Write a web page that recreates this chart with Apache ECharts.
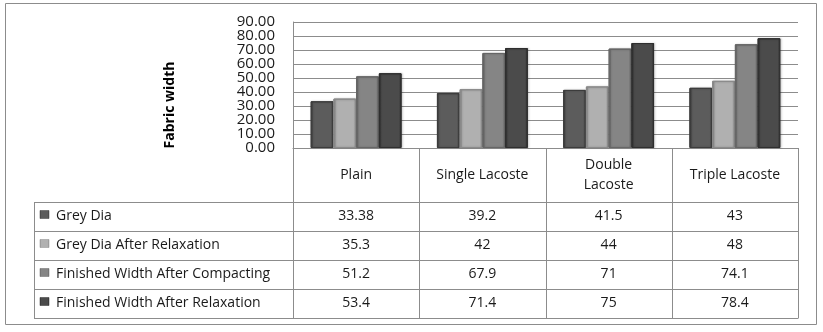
<!DOCTYPE html>
<html>
<head>
<meta charset="utf-8">
<script src="https://cdn.jsdelivr.net/npm/echarts@6/dist/echarts.min.js"></script>
<style>
  html, body { margin: 0; padding: 0; background: #fff; }
  #chart { width: 823px; height: 332px; }
</style>
</head>
<body>
<div id="chart"></div>
<script>
// data
const categories = ["Plain", "Single Lacoste", "Double Lacoste", "Triple Lacoste"];
const seriesNames = [
  "Grey Dia",
  "Grey Dia After Relaxation",
  "Finished Width After Compacting",
  "Finished Width After Relaxation",
];
const greyDia = [33.38, 39.2, 41.5, 43];
const greyDiaRelax = [35.3, 42, 44, 48];
const finishedCompact = [51.2, 67.9, 71, 74.1];
const finishedRelax = [53.4, 71.4, 75, 78.4];
const yTicks = [0, 10, 20, 30, 40, 50, 60, 70, 80, 90];

const seriesData = [greyDia, greyDiaRelax, finishedCompact, finishedRelax];
// base grey for each series: [edge, centre]
const shades = [
  ["#3c3c3c", "#5c5c5c"],
  ["#8a8a8a", "#b0b0b0"],
  ["#666666", "#858585"],
  ["#2f2f2f", "#4b4b4b"],
];

const FONT = "Open Sans";
const TXT = "#1a1a1a";
const LINE = "#8c8c8c";

const chart = echarts.init(document.getElementById("chart"));

function barFill(s) {
  return new echarts.graphic.LinearGradient(0, 0, 1, 0, [
    { offset: 0, color: s[0] },
    { offset: 0.12, color: s[1] },
    { offset: 0.88, color: s[1] },
    { offset: 1, color: s[0] },
  ]);
}

const option = {
  animation: false,
  grid: { left: 293, top: 22, right: 25, bottom: 184 },
  xAxis: {
    type: "category",
    data: categories,
    axisLine: { show: true, lineStyle: { color: LINE, width: 1 } },
    axisTick: { show: false },
    axisLabel: {
      margin: 27,
      verticalAlign: "middle",
      fontFamily: FONT,
      fontSize: 14,
      lineHeight: 20,
      color: TXT,
      interval: 0,
      formatter: (v) => (v === "Double Lacoste" ? "Double\nLacoste" : v),
    },
  },
  yAxis: {
    type: "value",
    min: yTicks[0],
    max: yTicks[yTicks.length - 1],
    interval: yTicks[1] - yTicks[0],
    axisLine: { show: true, lineStyle: { color: LINE, width: 1 } },
    axisTick: { show: false },
    splitLine: { lineStyle: { color: LINE, width: 1 } },
    // tick labels are packed tighter than ECharts allows, drawn below
    axisLabel: { show: false },
  },
  series: seriesData.map((d, i) => ({
    name: seriesNames[i],
    type: "bar",
    data: d,
    barGap: "0%",
    barCategoryGap: "28%",
    itemStyle: {
      color: barFill(shades[i]),
      borderColor: shades[i][0],
      borderWidth: 1,
      shadowColor: "rgba(0,0,0,0.25)",
      shadowBlur: 2,
      shadowOffsetX: 1,
      shadowOffsetY: 0,
    },
  })),
};
chart.setOption(option);

// data table under the plot
const tableLeft = 34;
const labelColRight = 293;
const tableRight = 798;
const headerTop = 148;
const rowTops = [202, 231, 260, 289, 318];

const g = [];
// outer frame
g.push({
  type: "rect",
  shape: { x: 5.5, y: 3.5, width: 811, height: 321 },
  style: { fill: null, stroke: LINE, lineWidth: 1 },
  silent: true,
});

// y tick labels
yTicks.forEach((t) => {
  g.push({
    type: "text",
    x: 275,
    y: chart.convertToPixel({ yAxisIndex: 0 }, t),
    style: {
      text: t.toFixed(2),
      font: "15px " + FONT,
      fill: TXT,
      align: "right",
      verticalAlign: "middle",
    },
  });
});

// fabric width title
g.push({
  type: "text",
  x: 170,
  y: 105,
  rotation: Math.PI / 2,
  style: {
    text: "Fabric width",
    font: "bold 14px " + FONT,
    fill: "#000",
    align: "center",
    verticalAlign: "middle",
  },
});

// horizontal rules
rowTops.forEach((y) => {
  g.push({
    type: "line",
    shape: { x1: tableLeft, y1: y + 0.5, x2: tableRight, y2: y + 0.5 },
    style: { stroke: LINE, lineWidth: 1 },
  });
});

// vertical rules
const edges = [];
const step = (tableRight - labelColRight) / categories.length;
for (let i = 0; i <= categories.length; i++) edges.push(labelColRight + i * step);
edges.forEach((x) => {
  g.push({
    type: "line",
    shape: { x1: Math.round(x) + 0.5, y1: headerTop, x2: Math.round(x) + 0.5, y2: rowTops[rowTops.length - 1] + 0.5 },
    style: { stroke: LINE, lineWidth: 1 },
  });
});
g.push({
  type: "line",
  shape: { x1: tableLeft + 0.5, y1: rowTops[0], x2: tableLeft + 0.5, y2: rowTops[rowTops.length - 1] + 0.5 },
  style: { stroke: LINE, lineWidth: 1 },
});

// rows: key, label, values
seriesNames.forEach((name, r) => {
  const cy = (rowTops[r] + rowTops[r + 1]) / 2;
  g.push({
    type: "rect",
    shape: { x: 40, y: cy - 6, width: 9, height: 8 },
    style: { fill: barFill(shades[r]), stroke: shades[r][0], lineWidth: 0.5 },
  });
  g.push({
    type: "text",
    x: 56,
    y: cy,
    style: { text: name, font: "14px " + FONT, fill: TXT, align: "left", verticalAlign: "middle" },
  });
  seriesData[r].forEach((v, c) => {
    const cx = chart.convertToPixel({ xAxisIndex: 0 }, categories[c]);
    g.push({
      type: "text",
      x: cx,
      y: cy,
      style: { text: String(v), font: "14px " + FONT, fill: TXT, align: "center", verticalAlign: "middle" },
    });
  });
});

chart.setOption({ graphic: g });
</script>
</body>
</html>
